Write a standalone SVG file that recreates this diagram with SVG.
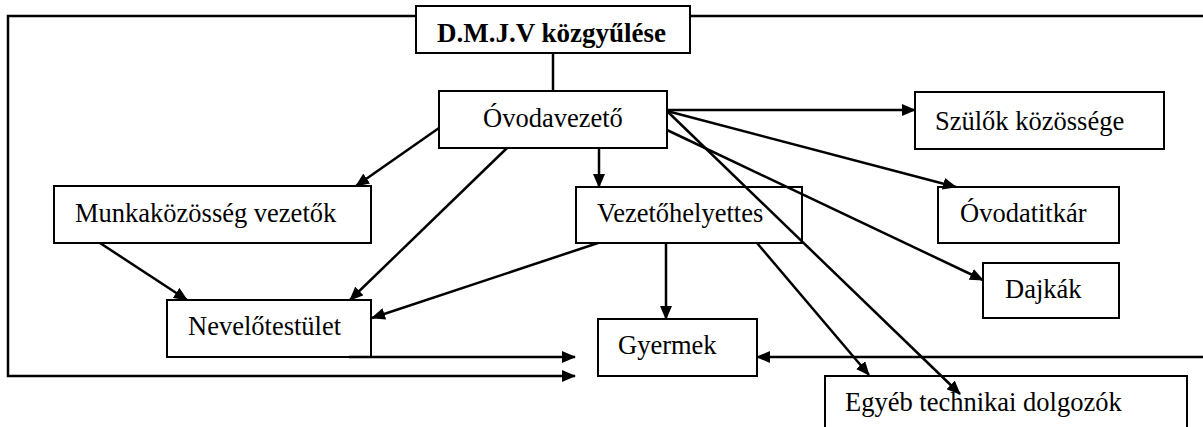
<svg xmlns="http://www.w3.org/2000/svg" width="1203" height="427" viewBox="0 0 1203 427">
<style>
.box{fill:#fff;stroke:#000;stroke-width:2}
.t{font-family:"Liberation Serif","Times New Roman",serif;font-size:26.5px;fill:#000}
.b{font-weight:bold;font-size:27px}
.c{fill:none;stroke:#000;stroke-width:2.5}
.a{marker-end:url(#arr)}
</style>
<defs>
<marker id="arr" markerUnits="userSpaceOnUse" viewBox="0 0 14 12" refX="13" refY="6" markerWidth="14" markerHeight="12" orient="auto">
<path d="M0,0 L14,6 L0,12 z" fill="#000"/>
</marker>
</defs>
<rect width="1203" height="427" fill="#fff"/>
<g id="dmjv"><rect class="box" x="416" y="6" width="274" height="47"/><text class="t b" x="437" y="42">D.M.J.V közgyűlése</text></g>
<g id="ovodavezeto"><rect class="box" x="439" y="91" width="228" height="57"/><text class="t" x="483" y="127">Óvodavezető</text></g>
<g id="szulok"><rect class="box" x="915" y="92" width="249" height="57"/><text class="t" x="935" y="130">Szülők közössége</text></g>
<g id="munkakozosseg"><rect class="box" x="54" y="186" width="317" height="57"/><text class="t" x="75" y="222">Munkaközösség vezetők</text></g>
<g id="vezetohelyettes"><rect class="box" x="576" y="187" width="226" height="56"/><text class="t" x="597" y="222">Vezetőhelyettes</text></g>
<g id="ovodatitkar"><rect class="box" x="938" y="187" width="181" height="56"/><text class="t" x="960" y="222">Óvodatitkár</text></g>
<g id="dajkak"><rect class="box" x="983" y="263" width="136" height="55"/><text class="t" x="1005" y="298">Dajkák</text></g>
<g id="nevelotestulet"><rect class="box" x="167" y="300" width="204" height="57"/><text class="t" x="188" y="335">Nevelőtestület</text></g>
<g id="gyermek"><rect class="box" x="598" y="319" width="159" height="57"/><text class="t" x="618" y="354">Gyermek</text></g>
<g id="egyeb"><rect class="box" x="825" y="376" width="362" height="60"/><text class="t" x="845" y="411">Egyéb technikai dolgozók</text></g>
<g id="connectors">
<polyline class="c a" points="416,16 8,16 8,376 575,376"/>
<line class="c" x1="690" y1="16" x2="1203" y2="16"/>
<line class="c" x1="553" y1="53" x2="553" y2="91"/>
<line class="c a" x1="667" y1="110" x2="915" y2="110"/>
<line class="c a" x1="439" y1="128" x2="356" y2="186"/>
<line class="c a" x1="507" y1="148" x2="350" y2="300"/>
<line class="c a" x1="599" y1="148" x2="599" y2="187"/>
<line class="c a" x1="667" y1="111" x2="956" y2="187"/>
<line class="c a" x1="667" y1="130" x2="983" y2="280"/>
<line class="c a" x1="667" y1="111" x2="960" y2="394"/>
<line class="c a" x1="100" y1="243" x2="187" y2="300"/>
<line class="c a" x1="598" y1="243" x2="372" y2="318"/>
<line class="c a" x1="666" y1="243" x2="666" y2="319"/>
<line class="c a" x1="757" y1="243" x2="869" y2="375"/>
<line class="c a" x1="349" y1="357" x2="575" y2="357"/>
<line class="c a" x1="1203" y1="357" x2="757" y2="357"/>
</g>
</svg>
